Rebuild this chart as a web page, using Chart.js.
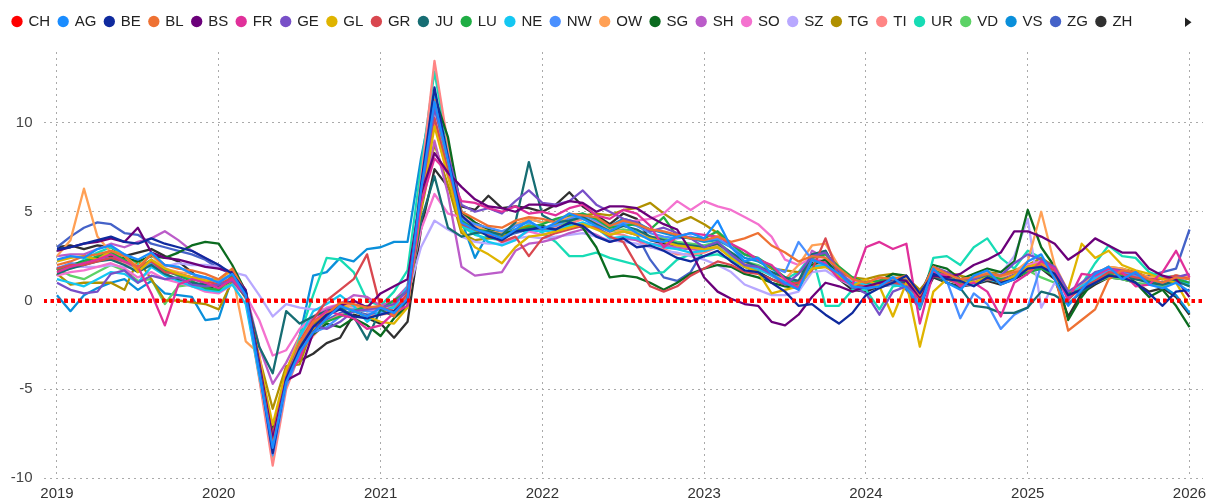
<!DOCTYPE html>
<html>
<head>
<meta charset="utf-8">
<script src="https://cdn.jsdelivr.net/npm/chart.js@4"></script>
<style>
  html, body { margin: 0; padding: 0; background: #fff; }
  #wrap { width: 1207px; height: 500px; position: relative; }
</style>
</head>
<body>
<div id="wrap"><canvas id="chart"></canvas></div>
<script>
// tick labels (x) and y grid values
const years = ['2019', '2020', '2021', '2022', '2023', '2024', '2025', '2026'];
const yTicks = [-10, -5, 0, 5, 10];

// monthly categories, Jan 2019 .. Jan 2026
const months = [];
years.forEach(y => { for (let m = 1; m <= 12; m++) months.push(y + '-' + String(m).padStart(2, '0')); });
months.length = 85;

const names = ['CH', 'AG', 'BE', 'BL', 'BS', 'FR', 'GE', 'GL', 'GR', 'JU', 'LU', 'NE', 'NW', 'OW',
  'SG', 'SH', 'SO', 'SZ', 'TG', 'TI', 'UR', 'VD', 'VS', 'ZG', 'ZH'];

// values per month (one row per year)
const CH = [
  0, 0, 0, 0, 0, 0, 0, 0, 0, 0, 0, 0,
  0, 0, 0, 0, 0, 0, 0, 0, 0, 0, 0, 0,
  0, 0, 0, 0, 0, 0, 0, 0, 0, 0, 0, 0,
  0, 0, 0, 0, 0, 0, 0, 0, 0, 0, 0, 0,
  0, 0, 0, 0, 0, 0, 0, 0, 0, 0, 0, 0,
  0, 0, 0, 0, 0, 0, 0, 0, 0, 0, 0, 0,
  0, 0, 0, 0, 0, 0, 0, 0, 0, 0, 0, 0,
  0];
const AG = [
  2.3, 2.5, 2.4, 2.9, 3.1, 2.6, 2.3, 2.7, 2.0, 1.9, 1.5, 1.3,
  1.0, 1.5, 0.3, -4.0, -8.3, -4.6, -2.9, -1.8, -1.0, -0.3, -0.6, -0.9,
  -0.4, -0.7, 0.1, 6.2, 11.2, 7.9, 4.4, 4.0, 3.8, 3.5, 4.0, 4.5,
  4.0, 4.4, 4.9, 4.6, 4.2, 3.9, 4.3, 3.8, 3.4, 3.3, 3.6, 3.8,
  3.5, 4.5, 3.0, 2.2, 2.4, 1.5, 1.0, 0.6, 2.3, 2.0, 1.5, 0.8,
  0.7, 0.8, 1.3, 0.7, -0.3, 1.8, 1.0, 0.6, 1.4, 1.7, 0.9, 1.2,
  2.2, 2.6, 1.2, -0.3, 0.6, 1.5, 1.9, 1.2, 1.6, 0.9, 0.7, 1.0,
  0.5];
const BE = [
  2.9, 3.0, 3.2, 3.4, 3.6, 3.3, 3.2, 3.5, 3.2, 3.0, 2.8, 2.4,
  2.0, 1.5, 0.5, -3.8, -8.6, -4.4, -2.7, -1.5, -0.8, -0.5, -0.9, -1.0,
  -0.8, -0.6, 0.0, 6.5, 12.0, 8.0, 4.8, 4.1, 3.6, 3.4, 3.9, 4.0,
  4.1, 4.0, 4.4, 4.2, 3.6, 3.3, 3.5, 3.0, 3.1, 2.8, 2.4, 2.2,
  2.5, 2.8, 2.2, 1.7, 1.6, 1.0, 0.5, -0.3, -0.2, -0.8, -1.3, -0.7,
  0.3, 0.7, 1.0, 1.4, 0.4, 1.5, 1.2, 1.1, 0.8, 1.3, 1.0, 1.2,
  1.8, 1.9, 1.5, 0.3, 0.6, 1.0, 1.4, 1.3, 1.0, 0.4, -0.3, 0.5,
  0.6];
const BL = [
  2.0, 2.2, 2.5, 2.6, 2.8, 2.5, 1.8, 2.6, 2.0, 1.8, 1.7, 1.5,
  1.2, 1.8, 0.4, -3.8, -8.2, -4.6, -2.4, -1.2, -0.8, -0.1, -0.2, -0.4,
  -0.3, -0.9, 0.2, 6.3, 11.3, 7.8, 5.0, 4.6, 4.2, 4.1, 4.5, 4.7,
  4.6, 4.4, 4.9, 4.8, 4.7, 4.2, 4.5, 4.3, 4.0, 3.9, 3.7, 3.5,
  3.4, 3.6, 3.3, 3.5, 3.8, 3.1, 2.7, 2.2, 2.5, 2.4, 1.8, 1.2,
  1.0, 1.3, 1.2, 1.4, 0.3, 1.9, 1.5, 1.2, 1.3, 1.5, 1.4, 1.6,
  1.7, 2.0, 1.5, -1.7, -1.1, -0.5, 1.2, 1.7, 1.6, 1.2, 1.0, 1.3,
  1.2];
const BS = [
  2.8, 3.0, 3.2, 3.3, 3.5, 3.3, 4.1, 2.7, 2.4, 2.3, 2.1, 1.9,
  1.8, 1.6, 0.6, -3.5, -7.8, -4.5, -4.1, -1.8, -0.9, -0.3, 0.0, -0.4,
  0.4, 0.8, 1.2, 6.0, 8.3, 7.2, 6.4, 5.7, 5.3, 5.2, 5.0, 5.4,
  5.4, 5.3, 5.6, 5.5, 5.0, 5.3, 5.3, 5.2, 4.7, 4.3, 4.0, 2.8,
  1.3, 0.5, 0.1, -0.2, -0.3, -1.2, -1.4, -0.8, 0.2, 1.0, 0.8, 0.5,
  0.8, 1.0, 1.2, 1.1, 0.2, 1.4, 1.3, 1.5, 2.0, 2.3, 2.7, 3.9,
  3.9, 3.6, 3.2, 2.3, 2.8, 3.5, 3.1, 2.7, 2.7, 1.8, 1.4, 1.2,
  0.2];
const FR = [
  1.6, 1.9, 2.1, 2.3, 2.6, 2.2, 1.9, 0.4, -1.4, 0.9, 1.2, 1.0,
  0.7, 1.2, 0.3, -3.7, -8.5, -4.3, -3.3, -1.2, -0.6, -0.8, -1.0, -1.6,
  -1.4, -0.7, -0.3, 5.5, 8.0, 7.2, 5.6, 5.5, 5.2, 5.0, 5.3, 4.9,
  5.0, 4.8, 5.2, 5.4, 4.8, 4.6, 5.1, 4.9, 4.2, 3.0, 3.6, 3.8,
  3.7, 3.6, 3.2, 2.8, 2.3, 2.0, 1.2, 0.7, 2.3, 2.1, 1.2, 0.9,
  3.0, 3.3, 2.9, 3.2, -1.3, 1.6, 1.4, 0.8, 1.0, 0.5, -0.9, 1.0,
  1.5, 2.2, 1.8, 0.0, 1.5, 1.4, 1.8, 1.6, 0.8, 0.9, 1.6, 2.8,
  1.3];
const GE = [
  1.0, 0.6, 0.4, 0.5, 1.5, 1.7, 1.0, 1.4, 1.2, 1.3, 0.9, 0.8,
  0.9, 1.1, 0.3, -3.6, -7.9, -4.4, -2.4, -1.4, -1.6, -1.2, -0.6, -0.5,
  -0.4, -0.2, 0.6, 6.0, 10.8, 8.2, 5.4, 5.0, 5.2, 4.9, 5.6, 6.2,
  5.5, 5.4, 5.6, 6.2, 5.4, 5.0, 4.6, 4.4, 3.9, 4.1, 3.8, 3.5,
  3.0, 3.3, 2.6, 2.0, 1.9, 1.5, 0.9, 1.5, 2.5, 2.7, 1.7, 0.8,
  0.4, -0.8, 0.5, 0.8, 0.3, 1.9, 1.6, 1.2, 1.2, 1.5, 1.4, 2.1,
  2.6, 2.3, 1.9, 0.5, 1.0, 1.6, 1.8, 1.7, 1.5, 1.2, 1.0, 1.3,
  1.5];
const GL = [
  2.2, 2.4, 2.5, 2.3, 2.8, 2.6, 1.6, 2.3, 1.8, 1.5, 1.3, 1.1,
  1.2, 1.7, 0.5, -3.4, -7.0, -3.9, -2.3, -1.6, -0.8, -0.2, -0.6, -0.9,
  -1.2, -1.3, -0.4, 5.2, 9.8, 7.0, 4.0, 3.0, 2.6, 2.1, 3.0, 3.6,
  3.7, 3.9, 4.1, 4.3, 4.0, 3.7, 3.9, 3.7, 3.5, 3.3, 3.1, 3.0,
  2.9, 3.0, 2.4, 1.9, 1.6, 0.4, 0.6, 0.8, 1.8, 1.9, 1.4, 0.8,
  1.2, 0.8, -0.9, 1.0, -2.6, 0.5, 1.2, 1.1, 1.0, 1.3, 1.0, 1.4,
  1.9, 2.1, 1.4, 0.6, 3.2, 2.4, 2.8, 2.0, 1.7, 1.5, 1.2, 1.0,
  -0.3];
const GR = [
  1.8, 2.0, 2.0, 2.2, 2.4, 2.2, 1.9, 2.2, 1.6, 1.5, 1.3, 1.1,
  0.9, 1.3, 0.4, -3.6, -7.6, -4.1, -2.3, -1.1, 0.0, 0.6, 1.2, 2.6,
  -0.4, -0.6, 0.4, 5.6, 10.3, 7.3, 4.3, 4.0, 3.7, 3.3, 3.6, 2.5,
  3.5, 3.8, 4.0, 4.2, 4.1, 3.6, 3.3, 2.0, 0.8, 0.5, 0.8, 1.4,
  1.8, 2.2, 2.0, 1.6, 1.5, 1.2, 0.9, 1.0, 1.7, 3.5, 1.3, 0.9,
  0.8, 0.9, 1.0, 0.9, 0.1, 1.4, 1.2, 0.9, 1.0, 1.2, 1.1, 1.4,
  1.9, 2.0, 1.7, 0.1, 0.7, 1.1, 1.6, 1.5, 1.3, 1.2, 1.2, 1.4,
  1.2];
const JU = [
  1.5, 1.8, 2.0, 2.2, 2.3, 2.0, 1.6, 2.0, 1.5, 1.2, 1.0, 0.9,
  0.8, 1.2, 0.2, -2.6, -4.1, -0.6, -1.3, -0.9, -0.6, -0.4, -0.9, -2.2,
  -0.5, -0.9, 0.0, 4.5, 7.0, 4.1, 3.6, 3.8, 3.9, 3.7, 4.4, 7.8,
  4.8, 4.4, 4.5, 4.7, 4.3, 3.9, 4.2, 4.0, 3.6, 3.4, 3.2, 3.1,
  3.0, 3.2, 2.7, 2.2, 1.9, 1.6, 1.3, 1.1, 2.6, 2.8, 1.5, 0.9,
  0.7, 1.0, 1.0, 1.0, 0.1, 1.4, 1.0, 0.7, -0.3, -0.4, -0.7, -0.7,
  -0.4, 0.5, 0.3, -0.2, 0.5, 1.0, 1.4, 1.3, 1.2, 1.0, 0.9, 1.1,
  0.8];
const LU = [
  1.7, 1.9, 2.2, 2.5, 2.7, 2.3, 1.8, 2.3, 1.7, 1.4, 1.1, 0.7,
  0.6, 1.4, 0.5, -3.9, -7.8, -4.2, -2.5, -1.5, -1.2, -0.9, -0.6, -0.3,
  -0.5, 0.0, 0.5, 6.0, 11.0, 8.0, 4.5, 4.0, 3.9, 3.5, 3.9, 4.1,
  4.3, 4.6, 4.8, 4.9, 4.6, 4.1, 4.2, 4.3, 4.0, 4.7, 3.6, 3.5,
  3.5, 3.9, 3.2, 2.6, 2.4, 1.9, 1.3, 0.8, 2.4, 2.6, 1.9, 1.3,
  1.0, 1.1, 1.2, 1.1, 0.1, 1.7, 1.4, 1.0, 1.2, 1.4, 1.2, 1.3,
  1.6, 1.8, 1.4, 0.4, 0.6, 1.1, 1.5, 1.4, 1.2, 1.1, 1.0, 1.2,
  1.0];
const NE = [
  1.2, 1.0, 0.8, 1.2, 1.6, 1.5, 1.0, 1.9, 1.4, 1.1, 0.8, 0.6,
  0.5, 0.9, -0.2, -4.2, -8.0, -4.5, -2.1, -0.6, -0.2, 0.3, -0.3, -1.2,
  -0.6, -0.4, 0.8, 6.4, 11.5, 7.6, 4.3, 3.8, 3.3, 3.1, 3.4, 4.0,
  3.9, 4.0, 4.2, 4.4, 4.1, 3.5, 3.6, 3.5, 3.2, 3.0, 2.9, 2.7,
  2.8, 3.0, 2.5, 2.0, 1.8, 1.4, 1.0, 0.7, 1.9, 2.0, 1.5, 1.0,
  0.9, 1.1, 0.9, 0.8, -0.2, 1.5, 1.2, 0.9, 0.9, 1.2, 1.0, 1.3,
  1.7, 1.9, 1.6, 0.3, 0.8, 1.2, 1.6, 1.5, 1.3, 1.1, 1.0, 1.1,
  0.9];
const NW = [
  1.8, 2.1, 2.0, 2.3, 2.4, 2.2, 1.8, 2.1, 1.6, 1.5, 1.3, 1.3,
  1.1, 1.5, 0.5, -4.0, -8.7, -4.8, -3.0, -1.8, -1.5, -0.9, -0.5, -0.6,
  -0.7, -0.4, 0.2, 5.9, 10.9, 7.7, 4.6, 4.3, 4.1, 3.9, 4.2, 4.4,
  4.1, 4.2, 4.6, 4.8, 4.5, 4.1, 4.4, 4.2, 3.8, 3.6, 3.5, 3.6,
  3.4, 3.5, 3.0, 2.6, 2.3, 1.9, 1.6, 3.3, 2.3, 2.0, 1.3, 0.9,
  0.8, 1.0, 1.1, 1.0, 0.0, 1.6, 1.1, -1.0, 0.4, -0.2, -1.6, -0.8,
  -0.4, 2.0, 1.5, 0.2, 0.8, 1.3, 1.7, 1.6, 1.4, 1.2, 1.0, 1.3,
  1.0];
const OW = [
  2.5, 3.4, 6.3, 3.6, 2.7, 2.5, 1.9, 2.6, 1.8, 1.6, 1.5, 1.2,
  1.0, 1.5, -2.3, -3.0, -8.0, -4.0, -2.0, -1.2, -0.7, -0.3, -0.3, -0.5,
  -0.4, -0.2, 0.6, 6.4, 10.0, 7.0, 4.6, 4.2, 3.9, 3.8, 4.3, 4.6,
  4.4, 4.5, 4.7, 4.6, 4.3, 4.0, 3.9, 3.8, 3.6, 3.4, 3.1, 3.0,
  2.9, 3.1, 2.6, 2.1, 1.9, 1.5, 1.2, 2.0, 3.1, 3.2, 1.9, 1.2,
  1.0, 1.1, 1.2, 1.3, 0.2, 1.8, 1.5, 1.2, 1.3, 1.6, 1.3, 1.6,
  2.2, 5.0, 2.0, 0.5, 0.9, 1.5, 1.9, 1.8, 1.5, 1.3, 1.2, 1.4,
  1.3];
const SG = [
  1.8, 2.0, 2.2, 2.4, 2.5, 2.4, 2.2, 2.5, 2.4, 2.7, 3.1, 3.3,
  3.2, 2.0, 0.5, -3.6, -7.3, -4.0, -2.8, -1.9, -1.3, -1.5, -1.0, -1.4,
  -2.0, -1.0, -0.3, 6.2, 11.5, 9.2, 5.0, 4.4, 4.0, 3.8, 3.9, 4.0,
  4.2, 4.0, 4.3, 4.1, 3.0, 1.3, 1.4, 1.3, 1.0, 0.6, 1.0, 1.5,
  1.8, 2.0, 1.9, 1.5, 1.3, 1.0, 0.8, 0.7, 2.0, 2.3, 1.4, 0.9,
  0.9, 1.1, 1.5, 1.4, 0.3, 2.0, 1.8, 1.2, 1.5, 1.8, 1.6, 2.2,
  5.1, 3.0, 1.9, -1.1, 0.2, 1.2, 1.8, 1.6, 1.0, 0.2, 0.6, -0.3,
  -1.5];
const SH = [
  2.5, 2.6, 2.6, 2.9, 3.2, 3.0, 3.3, 3.5, 3.9, 3.4, 2.8, 2.4,
  2.0, 1.4, 0.5, -2.6, -4.7, -3.5, -2.0, -1.0, -0.5, -0.2, 0.3, 0.2,
  -0.3, 0.0, 0.8, 5.3, 9.0, 6.0, 1.9, 1.4, 1.5, 1.6, 2.8, 3.2,
  3.3, 3.5, 3.8, 4.0, 3.7, 3.3, 3.5, 3.4, 3.2, 3.1, 3.0, 2.9,
  2.8, 3.0, 2.5, 2.0, 1.8, 1.6, 1.1, 0.9, 2.8, 2.4, 1.5, 1.0,
  0.8, 0.9, 1.0, 1.0, 0.2, 1.4, 1.2, 1.0, 1.0, 1.3, 1.1, 1.4,
  1.8, 2.0, 1.5, 0.1, 0.8, 1.2, 1.6, 1.6, 1.3, 1.1, 1.0, 1.2,
  0.9];
const SO = [
  1.4, 1.6, 1.7, 1.9, 2.1, 1.8, 1.3, 1.6, 1.2, 1.0, 0.8, 0.5,
  0.4, 0.9, 0.3, -1.1, -3.1, -2.8, -1.6, -0.9, -0.4, -0.2, -0.3, -0.6,
  -0.5, -0.2, 0.5, 4.0, 6.0, 4.9, 4.7, 4.3, 3.8, 3.3, 3.5, 3.9,
  3.7, 3.9, 4.1, 4.3, 4.4, 4.0, 4.3, 4.5, 4.6, 4.9, 5.6, 5.1,
  5.6, 5.3, 5.1, 4.7, 4.3, 3.6, 2.3, 2.0, 2.4, 2.2, 1.5, 1.1,
  1.0, 1.2, 1.1, 1.0, 0.1, 1.7, 1.5, 1.2, 1.2, 1.5, 1.3, 1.6,
  2.0, 2.2, 1.8, 0.3, 1.0, 1.4, 1.8, 1.7, 1.5, 1.3, 1.2, 1.4,
  1.2];
const SZ = [
  1.9, 1.9, 1.9, 1.9, 2.0, 1.9, 1.8, 2.0, 1.9, 2.1, 2.0, 2.0,
  1.9, 1.6, 1.4, 0.3, -0.9, -0.2, -0.4, -0.5, -0.5, -0.3, -0.4, -0.5,
  -0.3, -0.2, 0.3, 3.0, 4.5, 4.0, 3.6, 3.3, 3.2, 3.2, 3.5, 3.6,
  3.5, 3.6, 3.7, 3.8, 3.6, 3.4, 3.3, 3.2, 3.0, 2.8, 2.7, 2.5,
  2.3, 2.0, 1.6, 0.9, 0.6, 0.3, 0.3, 0.5, 1.6, 1.7, 1.2, 0.8,
  0.7, 0.8, 0.9, 0.9, 0.0, 1.4, 1.2, 1.0, 1.0, 1.3, 1.5, 2.5,
  4.6, -0.4, 1.0, 0.2, 0.8, 1.2, 1.6, 1.5, 1.3, 1.1, 1.0, 1.2,
  1.0];
const TG = [
  1.5, 0.9, 1.0, 1.0, 1.0, 0.6, 2.3, 1.2, 0.0, 0.0, -0.1, -0.2,
  -0.5, 1.1, 0.2, -3.2, -6.1, -3.7, -3.6, -1.4, -0.6, -0.4, -0.5, -0.6,
  -0.4, -0.6, 0.3, 5.0, 8.8, 6.5, 3.8, 3.4, 3.5, 3.6, 4.0, 4.2,
  4.0, 4.3, 4.6, 4.8, 4.9, 4.8, 5.1, 5.2, 5.5, 4.9, 4.4, 4.7,
  4.3, 3.8, 3.0, 2.6, 2.3, 1.8, 1.7, 1.6, 1.8, 1.9, 1.5, 1.3,
  1.2, 1.4, 1.5, 1.3, 0.6, 1.5, 1.6, 1.4, 1.2, 1.6, 1.5, 1.7,
  2.0, 2.4, 1.9, 0.3, 0.9, 1.4, 1.9, 1.8, 1.6, 1.3, 1.2, 1.4,
  1.3];
const TI = [
  1.6, 1.8, 2.1, 2.3, 2.4, 2.1, 1.7, 2.2, 1.7, 1.5, 1.3, 1.0,
  0.8, 1.3, 0.1, -4.4, -9.3, -5.0, -3.0, -2.0, -1.2, -0.8, -0.6, -0.9,
  -0.8, -0.7, 0.1, 6.8, 13.5, 8.8, 4.9, 4.4, 4.0, 3.6, 3.9, 4.1,
  4.0, 4.1, 4.3, 4.6, 4.4, 3.8, 3.7, 3.4, 3.0, 2.9, 2.6, 2.6,
  2.7, 3.0, 2.6, 2.0, 1.8, 1.4, 1.0, 0.8, 2.0, 2.1, 1.6, 1.1,
  1.0, 1.1, 1.2, 1.1, 0.2, 1.5, 1.2, 1.0, 1.1, 1.3, 1.1, 1.4,
  1.9, 2.0, 1.7, 0.4, 0.9, 1.3, 1.7, 1.6, 1.5, 1.3, 1.2, 1.4,
  1.3];
const UR = [
  1.7, 1.9, 2.3, 2.7, 3.0, 2.6, 2.0, 2.6, 1.8, 1.5, 1.2, 1.0,
  0.9, 1.2, 0.4, -4.3, -8.8, -4.4, -2.0, 0.3, 2.4, 2.3, 1.6, 0.0,
  -0.3, 0.5, 1.7, 7.5, 12.9, 8.5, 4.2, 3.7, 3.5, 3.4, 3.9, 4.3,
  3.8, 3.3, 2.5, 2.5, 2.7, 2.4, 2.2, 2.0, 1.5, 1.6, 2.3, 2.6,
  2.5, 2.6, 2.3, 1.9, 1.7, 1.5, 1.2, 1.6, 2.6, -0.3, -0.3, 0.6,
  0.6, -0.5, 0.8, 0.9, -0.4, 2.4, 2.5, 2.0, 3.0, 3.5, 2.4, 1.8,
  2.8, 2.4, 1.8, 0.0, 0.9, 2.1, 3.1, 2.5, 2.4, 1.6, 1.3, 1.4,
  1.2];
const VD = [
  1.8, 1.4, 1.2, 1.6, 2.0, 1.7, 1.1, 1.2, -0.2, 0.8, 0.9, 0.7,
  0.6, 1.0, 0.3, -3.8, -7.7, -4.1, -2.4, -1.3, -0.7, -0.5, -0.4, -0.6,
  -0.5, -0.3, 0.4, 5.7, 10.2, 7.2, 4.3, 3.9, 3.7, 3.6, 4.0, 4.2,
  4.1, 4.2, 4.4, 4.6, 4.3, 3.9, 4.0, 3.9, 3.6, 3.5, 3.3, 3.2,
  3.1, 3.3, 2.7, 2.2, 2.0, 1.6, 1.2, 0.9, 2.0, 2.1, 1.4, 0.9,
  0.8, 0.9, 1.0, 0.9, 0.0, 1.5, 1.2, 0.9, 1.0, 1.3, 1.1, 1.3,
  1.7, 1.3, 1.0, 0.3, 0.6, 1.0, 1.3, 1.2, 1.0, 0.9, 0.8, 1.1,
  0.8];
const VS = [
  0.3, -0.6, 0.3, 0.7, 1.0, 1.2, 0.6, 1.1, 0.4, 0.3, 0.2, -1.1,
  -1.0, 1.3, 0.2, -4.0, -8.4, -4.3, -2.0, 1.4, 1.6, 2.4, 2.2, 2.9,
  3.0, 3.3, 3.3, 8.0, 11.8, 7.5, 4.5, 2.4, 3.8, 3.6, 4.2, 4.6,
  4.4, 4.5, 4.7, 4.9, 4.6, 4.2, 4.6, 4.4, 4.0, 3.8, 3.6, 3.5,
  3.3, 3.4, 3.0, 2.4, 2.2, 1.8, 1.3, 1.0, 2.0, 2.1, 1.7, 1.1,
  1.0, 1.1, 1.3, 1.2, 0.3, 1.7, 1.4, 1.1, 1.2, 1.5, 1.3, 1.6,
  2.0, 2.2, 1.7, 0.3, 0.9, 1.3, 1.7, 1.6, 1.4, 1.2, 0.8, 0.3,
  -0.7];
const ZG = [
  3.0, 3.6, 4.1, 4.4, 4.3, 3.8, 3.7, 3.2, 3.0, 2.8, 2.6, 2.3,
  1.8, 1.5, 0.4, -3.9, -8.5, -4.7, -2.8, -1.7, -1.1, -0.7, -0.6, -0.8,
  -0.7, -0.3, 0.2, 6.1, 11.0, 7.6, 4.5, 4.1, 3.7, 3.5, 3.8, 4.0,
  3.9, 4.0, 4.2, 4.3, 4.1, 3.7, 3.9, 3.7, 2.3, 1.3, 1.1, 1.6,
  2.9, 3.0, 2.6, 2.0, 1.8, 1.5, 0.9, 0.7, 2.5, 2.8, 1.4, 0.7,
  0.6, 0.9, 1.0, 0.6, -0.5, 1.6, 1.3, 1.0, 1.1, 1.4, 1.2, 1.5,
  1.9, 2.0, 1.6, 0.2, 0.8, 1.2, 1.6, 1.5, 1.3, 1.4, 1.6, 1.8,
  4.0];
const ZH = [
  3.0, 3.1, 2.9, 3.1, 3.0, 2.5, 2.7, 2.9, 2.5, 2.2, 1.6, 0.8,
  0.6, 1.1, 0.3, -3.5, -7.9, -3.8, -3.4, -3.0, -2.4, -2.1, -0.8, -1.0,
  -1.3, -2.1, -1.2, 4.0, 7.4, 6.4, 5.3, 5.1, 5.9, 5.2, 5.3, 5.2,
  5.0, 5.4, 6.1, 5.3, 4.8, 4.3, 4.9, 4.6, 3.4, 3.2, 3.0, 2.9,
  3.0, 3.1, 2.4, 1.9, 1.6, 1.2, 0.9, 0.7, 2.1, 2.2, 1.2, 0.6,
  0.5, 0.8, 0.9, 0.8, -0.2, 1.3, 1.0, 0.8, 0.9, 1.1, 0.9, 1.2,
  1.6, 1.8, 1.2, -0.9, 0.4, 0.9, 1.3, 1.2, 1.0, 0.5, 0.7, 0.2,
  -0.8];

const series = { CH, AG, BE, BL, BS, FR, GE, GL, GR, JU, LU, NE, NW, OW, SG, SH, SO, SZ, TG, TI, UR, VD, VS, ZG, ZH };

const colors = {
  CH: '#ff0000', AG: '#1a8cff', BE: '#0f2a9e', BL: '#ee7133', BS: '#6b007a', FR: '#e0309a',
  GE: '#7850c8', GL: '#dfb400', GR: '#d9474f', JU: '#166d73', LU: '#1fad44', NE: '#14c7f2',
  NW: '#4a90ff', OW: '#ffa055', SG: '#0b6b1f', SH: '#bb5cc9', SO: '#f472cf', SZ: '#b8a8ff',
  TG: '#b09000', TI: '#ff8585', UR: '#17dcb5', VD: '#5cd266', VS: '#0a8fda', ZG: '#4462c8', ZH: '#303030'
};

Chart.defaults.font.family = "'Liberation Sans', Arial, sans-serif";
Chart.defaults.font.size = 15;

const datasets = names.map(n => ({
  label: n,
  data: series[n].map((v, i) => ({ x: i, y: v })),
  borderColor: colors[n],
  backgroundColor: colors[n],
  borderWidth: n === 'CH' ? 4 : 2.3,
  borderDash: n === 'CH' ? [3.5, 3.5] : [],
  borderJoinStyle: 'round',
  pointRadius: 0,
  tension: 0
}));

// leave a gap between legend and plot
const legendSpacer = {
  id: 'legendSpacer',
  beforeInit(chart) {
    const fit = chart.legend.fit;
    chart.legend.fit = function () { fit.call(this); this.height += 13; };
  }
};

// little "more" arrow at the end of the legend row
const legendArrow = {
  id: 'legendArrow',
  afterDraw(chart) {
    const c = chart.ctx;
    c.save();
    c.fillStyle = '#222';
    c.beginPath();
    c.moveTo(1185, 17.5);
    c.lineTo(1185, 27);
    c.lineTo(1191.5, 22.25);
    c.closePath();
    c.fill();
    c.restore();
  }
};

const isZero = c => c.tick && c.tick.value === 0;

new Chart(document.getElementById('chart'), {
  type: 'line',
  data: { datasets },
  options: {
    responsive: true,
    maintainAspectRatio: false,
    animation: false,
    layout: { padding: { top: 5, left: 4, right: 4, bottom: 0 } },
    plugins: {
      legend: {
        position: 'top',
        align: 'start',
        labels: {
          usePointStyle: true,
          pointStyle: 'circle',
          boxWidth: 8,
          boxHeight: 8,
          padding: 9,
          color: '#222',
          generateLabels: chart => Chart.defaults.plugins.legend.labels.generateLabels(chart)
            .map(l => ({ ...l, fillStyle: l.strokeStyle, lineWidth: 0, lineDash: [] }))
        }
      },
      tooltip: { enabled: false }
    },
    scales: {
      x: {
        type: 'linear',
        min: -1,
        max: 85,
        afterBuildTicks: s => { s.ticks = years.map(y => ({ value: months.indexOf(y + '-01') })); },
        afterFit: s => { s.height = 22; s.paddingLeft = 0; s.paddingRight = 0; },
        ticks: {
          autoSkip: false,
          maxRotation: 0,
          padding: 7,
          color: '#333',
          callback: v => months[v].slice(0, 4)
        },
        grid: { color: '#aaa', lineWidth: 1, drawTicks: false },
        border: { display: false, dash: [2, 4] }
      },
      y: {
        min: -10,
        max: 14,
        afterBuildTicks: s => { s.ticks = yTicks.map(v => ({ value: v })); },
        afterFit: s => { s.width = 39.5; },
        ticks: { padding: 11, color: '#444' },
        grid: {
          color: c => isZero(c) ? '#ff0000' : '#aaa',
          lineWidth: c => isZero(c) ? 4 : 1,
          drawTicks: false
        },
        border: {
          display: false,
          dash: c => isZero(c) ? [3.5, 3.5] : [2, 4],
          dashOffset: c => isZero(c) ? 0.5 : 0
        }
      }
    }
  },
  plugins: [legendSpacer, legendArrow]
});
</script>
</body>
</html>
